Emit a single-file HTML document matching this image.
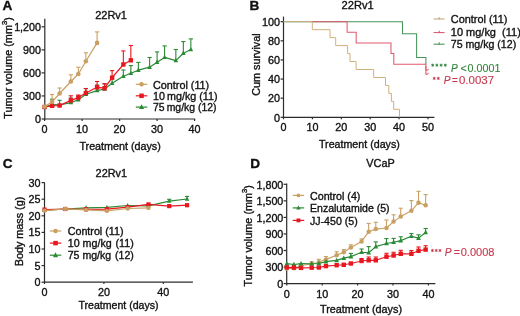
<!DOCTYPE html>
<html><head><meta charset="utf-8"><style>
html,body{margin:0;padding:0;background:#fff;width:520px;height:316px;overflow:hidden}
svg{display:block;will-change:transform}
text{font-family:"Liberation Sans", sans-serif}
</style></head><body>
<svg width="520" height="316" viewBox="0 0 520 316">
<rect width="520" height="316" fill="#fff"/>
<text x="2.6" y="10.3" font-size="13.6" text-anchor="start" fill="#111" stroke="#111" stroke-width="0.35" font-weight="bold" font-style="normal" >A</text>
<text x="95.2" y="19.3" font-size="11.6" text-anchor="start" fill="#111" stroke="#111" stroke-width="0.35" font-weight="normal" font-style="normal" textLength="31.8" lengthAdjust="spacingAndGlyphs" >22Rv1</text>
<line x1="44.8" y1="18.7" x2="44.8" y2="119.5" stroke="#2c2c2c" stroke-width="1.2"/>
<line x1="44.3" y1="119.0" x2="195.2" y2="119.0" stroke="#2c2c2c" stroke-width="1.2"/>
<line x1="41.6" y1="119.0" x2="44.8" y2="119.0" stroke="#2c2c2c" stroke-width="1.2"/>
<text x="40.9" y="123.2" font-size="10.7" text-anchor="end" fill="#111" stroke="#111" stroke-width="0.35" font-weight="normal" font-style="normal" >0</text>
<line x1="41.6" y1="95.95" x2="44.8" y2="95.95" stroke="#2c2c2c" stroke-width="1.2"/>
<text x="40.9" y="100.15" font-size="10.7" text-anchor="end" fill="#111" stroke="#111" stroke-width="0.35" font-weight="normal" font-style="normal" >300</text>
<line x1="41.6" y1="72.9" x2="44.8" y2="72.9" stroke="#2c2c2c" stroke-width="1.2"/>
<text x="40.9" y="77.10000000000001" font-size="10.7" text-anchor="end" fill="#111" stroke="#111" stroke-width="0.35" font-weight="normal" font-style="normal" >600</text>
<line x1="41.6" y1="49.849999999999994" x2="44.8" y2="49.849999999999994" stroke="#2c2c2c" stroke-width="1.2"/>
<text x="40.9" y="54.05" font-size="10.7" text-anchor="end" fill="#111" stroke="#111" stroke-width="0.35" font-weight="normal" font-style="normal" >900</text>
<line x1="41.6" y1="26.799999999999997" x2="44.8" y2="26.799999999999997" stroke="#2c2c2c" stroke-width="1.2"/>
<text x="40.9" y="30.999999999999996" font-size="10.7" text-anchor="end" fill="#111" stroke="#111" stroke-width="0.35" font-weight="normal" font-style="normal" >1,200</text>
<line x1="44.6" y1="119.0" x2="44.6" y2="121.0" stroke="#2c2c2c" stroke-width="1.2"/>
<text x="44.6" y="132.8" font-size="10.8" text-anchor="middle" fill="#111" stroke="#111" stroke-width="0.35" font-weight="normal" font-style="normal" >0</text>
<line x1="82.1" y1="119.0" x2="82.1" y2="121.0" stroke="#2c2c2c" stroke-width="1.2"/>
<text x="82.1" y="132.8" font-size="10.8" text-anchor="middle" fill="#111" stroke="#111" stroke-width="0.35" font-weight="normal" font-style="normal" >10</text>
<line x1="119.6" y1="119.0" x2="119.6" y2="121.0" stroke="#2c2c2c" stroke-width="1.2"/>
<text x="119.6" y="132.8" font-size="10.8" text-anchor="middle" fill="#111" stroke="#111" stroke-width="0.35" font-weight="normal" font-style="normal" >20</text>
<line x1="157.1" y1="119.0" x2="157.1" y2="121.0" stroke="#2c2c2c" stroke-width="1.2"/>
<text x="157.1" y="132.8" font-size="10.8" text-anchor="middle" fill="#111" stroke="#111" stroke-width="0.35" font-weight="normal" font-style="normal" >30</text>
<line x1="194.6" y1="119.0" x2="194.6" y2="121.0" stroke="#2c2c2c" stroke-width="1.2"/>
<text x="194.6" y="132.8" font-size="10.8" text-anchor="middle" fill="#111" stroke="#111" stroke-width="0.35" font-weight="normal" font-style="normal" >40</text>
<text x="79.4" y="149.6" font-size="10.8" text-anchor="start" fill="#111" stroke="#111" stroke-width="0.35" font-weight="normal" font-style="normal" textLength="81.4" lengthAdjust="spacingAndGlyphs" >Treatment (days)</text>
<text transform="translate(12.0,67.95) rotate(-90)" font-size="10.85" text-anchor="middle" fill="#111" stroke="#111" stroke-width="0.35">Tumor volume (mm<tspan font-size="7.6" dy="-5.0">3</tspan><tspan dy="5.0">)</tspan></text>
<line x1="52.10" y1="104.60" x2="52.10" y2="99.20" stroke="#2A8A36" stroke-width="1.1"/>
<line x1="50.00" y1="99.20" x2="54.20" y2="99.20" stroke="#2A8A36" stroke-width="1.1"/>
<line x1="59.60" y1="104.80" x2="59.60" y2="100.30" stroke="#2A8A36" stroke-width="1.1"/>
<line x1="57.50" y1="100.30" x2="61.70" y2="100.30" stroke="#2A8A36" stroke-width="1.1"/>
<line x1="70.85" y1="102.60" x2="70.85" y2="98.00" stroke="#2A8A36" stroke-width="1.1"/>
<line x1="68.75" y1="98.00" x2="72.95" y2="98.00" stroke="#2A8A36" stroke-width="1.1"/>
<line x1="78.35" y1="99.80" x2="78.35" y2="96.00" stroke="#2A8A36" stroke-width="1.1"/>
<line x1="76.25" y1="96.00" x2="80.45" y2="96.00" stroke="#2A8A36" stroke-width="1.1"/>
<line x1="85.85" y1="94.30" x2="85.85" y2="88.50" stroke="#2A8A36" stroke-width="1.1"/>
<line x1="83.75" y1="88.50" x2="87.95" y2="88.50" stroke="#2A8A36" stroke-width="1.1"/>
<line x1="97.10" y1="90.60" x2="97.10" y2="85.00" stroke="#2A8A36" stroke-width="1.1"/>
<line x1="95.00" y1="85.00" x2="99.20" y2="85.00" stroke="#2A8A36" stroke-width="1.1"/>
<line x1="104.60" y1="89.00" x2="104.60" y2="84.00" stroke="#2A8A36" stroke-width="1.1"/>
<line x1="102.50" y1="84.00" x2="106.70" y2="84.00" stroke="#2A8A36" stroke-width="1.1"/>
<line x1="112.10" y1="83.30" x2="112.10" y2="76.50" stroke="#2A8A36" stroke-width="1.1"/>
<line x1="110.00" y1="76.50" x2="114.20" y2="76.50" stroke="#2A8A36" stroke-width="1.1"/>
<line x1="123.35" y1="76.20" x2="123.35" y2="70.00" stroke="#2A8A36" stroke-width="1.1"/>
<line x1="121.25" y1="70.00" x2="125.45" y2="70.00" stroke="#2A8A36" stroke-width="1.1"/>
<line x1="130.85" y1="73.30" x2="130.85" y2="65.60" stroke="#2A8A36" stroke-width="1.1"/>
<line x1="128.75" y1="65.60" x2="132.95" y2="65.60" stroke="#2A8A36" stroke-width="1.1"/>
<line x1="138.35" y1="70.20" x2="138.35" y2="62.40" stroke="#2A8A36" stroke-width="1.1"/>
<line x1="136.25" y1="62.40" x2="140.45" y2="62.40" stroke="#2A8A36" stroke-width="1.1"/>
<line x1="149.60" y1="67.20" x2="149.60" y2="57.50" stroke="#2A8A36" stroke-width="1.1"/>
<line x1="147.50" y1="57.50" x2="151.70" y2="57.50" stroke="#2A8A36" stroke-width="1.1"/>
<line x1="157.10" y1="62.20" x2="157.10" y2="51.90" stroke="#2A8A36" stroke-width="1.1"/>
<line x1="155.00" y1="51.90" x2="159.20" y2="51.90" stroke="#2A8A36" stroke-width="1.1"/>
<line x1="164.60" y1="57.40" x2="164.60" y2="45.90" stroke="#2A8A36" stroke-width="1.1"/>
<line x1="162.50" y1="45.90" x2="166.70" y2="45.90" stroke="#2A8A36" stroke-width="1.1"/>
<line x1="175.85" y1="60.60" x2="175.85" y2="49.50" stroke="#2A8A36" stroke-width="1.1"/>
<line x1="173.75" y1="49.50" x2="177.95" y2="49.50" stroke="#2A8A36" stroke-width="1.1"/>
<line x1="183.35" y1="53.20" x2="183.35" y2="41.60" stroke="#2A8A36" stroke-width="1.1"/>
<line x1="181.25" y1="41.60" x2="185.45" y2="41.60" stroke="#2A8A36" stroke-width="1.1"/>
<line x1="190.85" y1="49.50" x2="190.85" y2="38.90" stroke="#2A8A36" stroke-width="1.1"/>
<line x1="188.75" y1="38.90" x2="192.95" y2="38.90" stroke="#2A8A36" stroke-width="1.1"/>
<polyline points="44.60,107.00 52.10,104.60 59.60,104.80 70.85,102.60 78.35,99.80 85.85,94.30 97.10,90.60 104.60,89.00 112.10,83.30 123.35,76.20 130.85,73.30 138.35,70.20 149.60,67.20 157.10,62.20 164.60,57.40 175.85,60.60 183.35,53.20 190.85,49.50" fill="none" stroke="#2A8A36" stroke-width="1.2" stroke-linejoin="round"/>
<polygon points="44.60,104.40 42.30,108.72 46.90,108.72" fill="#2A8A36"/>
<polygon points="52.10,102.00 49.80,106.32 54.40,106.32" fill="#2A8A36"/>
<polygon points="59.60,102.20 57.30,106.52 61.90,106.52" fill="#2A8A36"/>
<polygon points="70.85,100.00 68.55,104.32 73.15,104.32" fill="#2A8A36"/>
<polygon points="78.35,97.20 76.05,101.52 80.65,101.52" fill="#2A8A36"/>
<polygon points="85.85,91.70 83.55,96.02 88.15,96.02" fill="#2A8A36"/>
<polygon points="97.10,88.00 94.80,92.32 99.40,92.32" fill="#2A8A36"/>
<polygon points="104.60,86.40 102.30,90.72 106.90,90.72" fill="#2A8A36"/>
<polygon points="112.10,80.70 109.80,85.02 114.40,85.02" fill="#2A8A36"/>
<polygon points="123.35,73.60 121.05,77.92 125.65,77.92" fill="#2A8A36"/>
<polygon points="130.85,70.70 128.55,75.02 133.15,75.02" fill="#2A8A36"/>
<polygon points="138.35,67.60 136.05,71.92 140.65,71.92" fill="#2A8A36"/>
<polygon points="149.60,64.60 147.30,68.92 151.90,68.92" fill="#2A8A36"/>
<polygon points="157.10,59.60 154.80,63.93 159.40,63.93" fill="#2A8A36"/>
<polygon points="164.60,54.80 162.30,59.12 166.90,59.12" fill="#2A8A36"/>
<polygon points="175.85,58.00 173.55,62.33 178.15,62.33" fill="#2A8A36"/>
<polygon points="183.35,50.60 181.05,54.93 185.65,54.93" fill="#2A8A36"/>
<polygon points="190.85,46.90 188.55,51.23 193.15,51.23" fill="#2A8A36"/>
<line x1="70.85" y1="100.40" x2="70.85" y2="95.80" stroke="#E8161F" stroke-width="1.1"/>
<line x1="68.75" y1="95.80" x2="72.95" y2="95.80" stroke="#E8161F" stroke-width="1.1"/>
<line x1="78.35" y1="97.60" x2="78.35" y2="95.00" stroke="#E8161F" stroke-width="1.1"/>
<line x1="76.25" y1="95.00" x2="80.45" y2="95.00" stroke="#E8161F" stroke-width="1.1"/>
<line x1="85.85" y1="93.00" x2="85.85" y2="88.60" stroke="#E8161F" stroke-width="1.1"/>
<line x1="83.75" y1="88.60" x2="87.95" y2="88.60" stroke="#E8161F" stroke-width="1.1"/>
<line x1="97.10" y1="87.30" x2="97.10" y2="81.50" stroke="#E8161F" stroke-width="1.1"/>
<line x1="95.00" y1="81.50" x2="99.20" y2="81.50" stroke="#E8161F" stroke-width="1.1"/>
<line x1="104.60" y1="88.20" x2="104.60" y2="83.70" stroke="#E8161F" stroke-width="1.1"/>
<line x1="102.50" y1="83.70" x2="106.70" y2="83.70" stroke="#E8161F" stroke-width="1.1"/>
<line x1="112.10" y1="77.70" x2="112.10" y2="70.60" stroke="#E8161F" stroke-width="1.1"/>
<line x1="110.00" y1="70.60" x2="114.20" y2="70.60" stroke="#E8161F" stroke-width="1.1"/>
<line x1="123.35" y1="64.50" x2="123.35" y2="50.90" stroke="#E8161F" stroke-width="1.1"/>
<line x1="121.25" y1="50.90" x2="125.45" y2="50.90" stroke="#E8161F" stroke-width="1.1"/>
<line x1="130.85" y1="60.30" x2="130.85" y2="45.50" stroke="#E8161F" stroke-width="1.1"/>
<line x1="128.75" y1="45.50" x2="132.95" y2="45.50" stroke="#E8161F" stroke-width="1.1"/>
<polyline points="44.60,107.00 52.10,105.80 59.60,105.50 70.85,100.40 78.35,97.60 85.85,93.00 97.10,87.30 104.60,88.20 112.10,77.70 123.35,64.50 130.85,60.30" fill="none" stroke="#E8161F" stroke-width="1.2" stroke-linejoin="round"/>
<rect x="42.40" y="104.80" width="4.40" height="4.40" fill="#E8161F"/>
<rect x="49.90" y="103.60" width="4.40" height="4.40" fill="#E8161F"/>
<rect x="57.40" y="103.30" width="4.40" height="4.40" fill="#E8161F"/>
<rect x="68.65" y="98.20" width="4.40" height="4.40" fill="#E8161F"/>
<rect x="76.15" y="95.40" width="4.40" height="4.40" fill="#E8161F"/>
<rect x="83.65" y="90.80" width="4.40" height="4.40" fill="#E8161F"/>
<rect x="94.90" y="85.10" width="4.40" height="4.40" fill="#E8161F"/>
<rect x="102.40" y="86.00" width="4.40" height="4.40" fill="#E8161F"/>
<rect x="109.90" y="75.50" width="4.40" height="4.40" fill="#E8161F"/>
<rect x="121.15" y="62.30" width="4.40" height="4.40" fill="#E8161F"/>
<rect x="128.65" y="58.10" width="4.40" height="4.40" fill="#E8161F"/>
<line x1="52.10" y1="101.80" x2="52.10" y2="94.50" stroke="#C9A062" stroke-width="1.1"/>
<line x1="50.00" y1="94.50" x2="54.20" y2="94.50" stroke="#C9A062" stroke-width="1.1"/>
<line x1="59.60" y1="93.50" x2="59.60" y2="88.00" stroke="#C9A062" stroke-width="1.1"/>
<line x1="57.50" y1="88.00" x2="61.70" y2="88.00" stroke="#C9A062" stroke-width="1.1"/>
<line x1="70.85" y1="81.50" x2="70.85" y2="74.80" stroke="#C9A062" stroke-width="1.1"/>
<line x1="68.75" y1="74.80" x2="72.95" y2="74.80" stroke="#C9A062" stroke-width="1.1"/>
<line x1="78.35" y1="74.00" x2="78.35" y2="67.20" stroke="#C9A062" stroke-width="1.1"/>
<line x1="76.25" y1="67.20" x2="80.45" y2="67.20" stroke="#C9A062" stroke-width="1.1"/>
<line x1="85.85" y1="61.30" x2="85.85" y2="52.80" stroke="#C9A062" stroke-width="1.1"/>
<line x1="83.75" y1="52.80" x2="87.95" y2="52.80" stroke="#C9A062" stroke-width="1.1"/>
<line x1="97.10" y1="42.90" x2="97.10" y2="31.90" stroke="#C9A062" stroke-width="1.1"/>
<line x1="95.00" y1="31.90" x2="99.20" y2="31.90" stroke="#C9A062" stroke-width="1.1"/>
<polyline points="44.60,106.80 52.10,101.80 59.60,93.50 70.85,81.50 78.35,74.00 85.85,61.30 97.10,42.90" fill="none" stroke="#C9A062" stroke-width="1.2" stroke-linejoin="round"/>
<circle cx="44.60" cy="106.80" r="2.3" fill="#C9A062"/>
<circle cx="52.10" cy="101.80" r="2.3" fill="#C9A062"/>
<circle cx="59.60" cy="93.50" r="2.3" fill="#C9A062"/>
<circle cx="70.85" cy="81.50" r="2.3" fill="#C9A062"/>
<circle cx="78.35" cy="74.00" r="2.3" fill="#C9A062"/>
<circle cx="85.85" cy="61.30" r="2.3" fill="#C9A062"/>
<circle cx="97.10" cy="42.90" r="2.3" fill="#C9A062"/>
<line x1="135.8" y1="84.3" x2="147.3" y2="84.3" stroke="#C9A062" stroke-width="1.2"/>
<circle cx="141.55" cy="84.30" r="2.25" fill="#C9A062"/>
<text x="153.0" y="88.5" font-size="10.8" text-anchor="start" fill="#111" stroke="#111" stroke-width="0.35" font-weight="normal" font-style="normal" textLength="56.2" lengthAdjust="spacingAndGlyphs" >Control (11)</text>
<line x1="135.8" y1="95.8" x2="147.3" y2="95.8" stroke="#E8161F" stroke-width="1.2"/>
<rect x="139.30" y="93.55" width="4.50" height="4.50" fill="#E8161F"/>
<text x="153.0" y="100.0" font-size="10.8" text-anchor="start" fill="#111" stroke="#111" stroke-width="0.35" font-weight="normal" font-style="normal" textLength="64.5" lengthAdjust="spacingAndGlyphs" >10&#8201;mg/kg (11)</text>
<line x1="135.8" y1="107.1" x2="147.3" y2="107.1" stroke="#2A8A36" stroke-width="1.2"/>
<polygon points="141.55,104.21 139.00,109.04 144.10,109.04" fill="#2A8A36"/>
<text x="153.0" y="111.3" font-size="10.8" text-anchor="start" fill="#111" stroke="#111" stroke-width="0.35" font-weight="normal" font-style="normal" textLength="63.5" lengthAdjust="spacingAndGlyphs" >75&#8201;mg/kg (12)</text>
<text x="249.6" y="10.3" font-size="13.6" text-anchor="start" fill="#111" stroke="#111" stroke-width="0.35" font-weight="bold" font-style="normal" >B</text>
<text x="341.6" y="8.5" font-size="11.4" text-anchor="start" fill="#111" stroke="#111" stroke-width="0.35" font-weight="normal" font-style="normal" textLength="32.2" lengthAdjust="spacingAndGlyphs" >22Rv1</text>
<line x1="283.5" y1="16.6" x2="283.5" y2="117.8" stroke="#2c2c2c" stroke-width="1.2"/>
<line x1="283.0" y1="117.3" x2="434.4" y2="117.3" stroke="#2c2c2c" stroke-width="1.2"/>
<line x1="280.6" y1="117.3" x2="283.5" y2="117.3" stroke="#2c2c2c" stroke-width="1.2"/>
<text x="279.9" y="121.5" font-size="10.8" text-anchor="end" fill="#111" stroke="#111" stroke-width="0.35" font-weight="normal" font-style="normal" >0</text>
<line x1="280.6" y1="98.17999999999999" x2="283.5" y2="98.17999999999999" stroke="#2c2c2c" stroke-width="1.2"/>
<text x="279.9" y="102.38" font-size="10.8" text-anchor="end" fill="#111" stroke="#111" stroke-width="0.35" font-weight="normal" font-style="normal" >20</text>
<line x1="280.6" y1="79.06" x2="283.5" y2="79.06" stroke="#2c2c2c" stroke-width="1.2"/>
<text x="279.9" y="83.26" font-size="10.8" text-anchor="end" fill="#111" stroke="#111" stroke-width="0.35" font-weight="normal" font-style="normal" >40</text>
<line x1="280.6" y1="59.94" x2="283.5" y2="59.94" stroke="#2c2c2c" stroke-width="1.2"/>
<text x="279.9" y="64.14" font-size="10.8" text-anchor="end" fill="#111" stroke="#111" stroke-width="0.35" font-weight="normal" font-style="normal" >60</text>
<line x1="280.6" y1="40.81999999999999" x2="283.5" y2="40.81999999999999" stroke="#2c2c2c" stroke-width="1.2"/>
<text x="279.9" y="45.019999999999996" font-size="10.8" text-anchor="end" fill="#111" stroke="#111" stroke-width="0.35" font-weight="normal" font-style="normal" >80</text>
<line x1="280.6" y1="21.69999999999999" x2="283.5" y2="21.69999999999999" stroke="#2c2c2c" stroke-width="1.2"/>
<text x="279.9" y="25.899999999999988" font-size="10.8" text-anchor="end" fill="#111" stroke="#111" stroke-width="0.35" font-weight="normal" font-style="normal" >100</text>
<line x1="283.5" y1="117.3" x2="283.5" y2="119.3" stroke="#2c2c2c" stroke-width="1.2"/>
<text x="283.5" y="131.0" font-size="10.8" text-anchor="middle" fill="#111" stroke="#111" stroke-width="0.35" font-weight="normal" font-style="normal" >0</text>
<line x1="312.4" y1="117.3" x2="312.4" y2="119.3" stroke="#2c2c2c" stroke-width="1.2"/>
<text x="312.4" y="131.0" font-size="10.8" text-anchor="middle" fill="#111" stroke="#111" stroke-width="0.35" font-weight="normal" font-style="normal" >10</text>
<line x1="341.3" y1="117.3" x2="341.3" y2="119.3" stroke="#2c2c2c" stroke-width="1.2"/>
<text x="341.3" y="131.0" font-size="10.8" text-anchor="middle" fill="#111" stroke="#111" stroke-width="0.35" font-weight="normal" font-style="normal" >20</text>
<line x1="370.2" y1="117.3" x2="370.2" y2="119.3" stroke="#2c2c2c" stroke-width="1.2"/>
<text x="370.2" y="131.0" font-size="10.8" text-anchor="middle" fill="#111" stroke="#111" stroke-width="0.35" font-weight="normal" font-style="normal" >30</text>
<line x1="399.1" y1="117.3" x2="399.1" y2="119.3" stroke="#2c2c2c" stroke-width="1.2"/>
<text x="399.1" y="131.0" font-size="10.8" text-anchor="middle" fill="#111" stroke="#111" stroke-width="0.35" font-weight="normal" font-style="normal" >40</text>
<line x1="428.0" y1="117.3" x2="428.0" y2="119.3" stroke="#2c2c2c" stroke-width="1.2"/>
<text x="428.0" y="131.0" font-size="10.8" text-anchor="middle" fill="#111" stroke="#111" stroke-width="0.35" font-weight="normal" font-style="normal" >50</text>
<text x="319.0" y="148.3" font-size="10.8" text-anchor="start" fill="#111" stroke="#111" stroke-width="0.35" font-weight="normal" font-style="normal" textLength="80.8" lengthAdjust="spacingAndGlyphs" >Treatment (days)</text>
<text x="0" y="0" font-size="10.8" text-anchor="middle" fill="#111" stroke="#111" stroke-width="0.35" font-weight="normal" font-style="normal" transform="translate(260.4,64.6) rotate(-90)">Cum survival</text>
<path d="M283.50,21.70 L402.50,21.70 L402.50,33.65 L416.60,33.65 L416.60,57.55 L425.90,57.55 L425.90,64.20" fill="none" stroke="#45955A" stroke-width="1.05"/>
<path d="M312.30,21.70 L347.10,21.70 L347.10,32.32 L356.20,32.32 L356.20,42.94 L391.00,42.94 L391.00,53.57 L393.80,53.57 L393.80,64.19 L425.90,64.19 L425.90,70.00" fill="none" stroke="#E25A6E" stroke-width="1.05"/>
<path d="M425.9,66 L425.9,69.8 Q426.3,71.2 428.6,69.2 M425.9,70 L425.9,73.8 Q426.3,75.2 428.6,73.2" fill="none" stroke="#E25A6E" stroke-width="1.1"/>
<path d="M283.50,21.70 L312.30,21.70 L312.30,29.67 L330.00,29.67 L330.00,37.63 L335.70,37.63 L335.70,45.60 L347.60,45.60 L347.60,53.57 L350.00,53.57 L350.00,61.53 L356.10,61.53 L356.10,69.50 L373.70,69.50 L373.70,77.47 L385.50,77.47 L385.50,85.43 L388.80,85.43 L388.80,93.40 L391.40,93.40 L391.40,101.37 L393.70,101.37 L393.70,109.33 L399.50,109.33 L399.50,117.30 L399.50,117.30" fill="none" stroke="#D2AF7C" stroke-width="1.0"/>
<line x1="433.6" y1="19.0" x2="444.6" y2="19.0" stroke="#BFA070" stroke-width="1.0"/>
<line x1="439.2" y1="17.1" x2="439.2" y2="19.3" stroke="#BFA070" stroke-width="1.0"/>
<text x="450.8" y="22.7" font-size="10.9" text-anchor="start" fill="#111" stroke="#111" stroke-width="0.35" font-weight="normal" font-style="normal" textLength="56.7" lengthAdjust="spacingAndGlyphs" >Control (11)</text>
<line x1="433.6" y1="32.6" x2="444.6" y2="32.6" stroke="#D65068" stroke-width="1.0"/>
<line x1="439.2" y1="30.700000000000003" x2="439.2" y2="32.9" stroke="#D65068" stroke-width="1.0"/>
<text x="450.8" y="36.2" font-size="10.9" text-anchor="start" fill="#111" stroke="#111" stroke-width="0.35" font-weight="normal" font-style="normal" textLength="70.0" lengthAdjust="spacingAndGlyphs" >10 mg/kg&#160; (11)</text>
<line x1="433.6" y1="44.2" x2="444.6" y2="44.2" stroke="#3C8A4C" stroke-width="1.0"/>
<line x1="439.2" y1="42.300000000000004" x2="439.2" y2="44.5" stroke="#3C8A4C" stroke-width="1.0"/>
<text x="450.8" y="48.1" font-size="10.9" text-anchor="start" fill="#111" stroke="#111" stroke-width="0.35" font-weight="normal" font-style="normal" textLength="65.4" lengthAdjust="spacingAndGlyphs" >75 mg/kg (12)</text>
<path d="M432.70,63.65L432.70,66.75M431.36,64.42L434.04,65.98M434.04,64.42L431.36,65.98M436.90,63.65L436.90,66.75M435.56,64.42L438.24,65.98M438.24,64.42L435.56,65.98M441.10,63.65L441.10,66.75M439.76,64.42L442.44,65.98M442.44,64.42L439.76,65.98M445.30,63.65L445.30,66.75M443.96,64.42L446.64,65.98M446.64,64.42L443.96,65.98" stroke="#34873F" stroke-width="0.95" fill="none"/>
<text x="451.0" y="71.6" font-size="10.1" font-style="italic" fill="#34873F" stroke="#34873F" stroke-width="0.12">P</text>
<text x="460.4" y="71.6" font-size="10.1" fill="#34873F" stroke="#34873F" stroke-width="0.12" textLength="6.2" lengthAdjust="spacingAndGlyphs">&lt;</text>
<text x="467.6" y="71.6" font-size="10.1" fill="#34873F" stroke="#34873F" stroke-width="0.12" textLength="32.8" lengthAdjust="spacingAndGlyphs">0.0001</text>
<path d="M434.20,76.85L434.20,79.95M432.86,77.62L435.54,79.18M435.54,77.62L432.86,79.18M438.30,76.85L438.30,79.95M436.96,77.62L439.64,79.18M439.64,77.62L436.96,79.18" stroke="#C93A50" stroke-width="0.95" fill="none"/>
<text x="443.8" y="84.0" font-size="10.1" font-style="italic" fill="#C93A50" stroke="#C93A50" stroke-width="0.12">P</text>
<text x="452.0" y="84.0" font-size="10.1" fill="#C93A50" stroke="#C93A50" stroke-width="0.12" textLength="5.8" lengthAdjust="spacingAndGlyphs">=</text>
<text x="459.0" y="84.0" font-size="10.1" fill="#C93A50" stroke="#C93A50" stroke-width="0.12" textLength="35.0" lengthAdjust="spacingAndGlyphs">0.0037</text>
<text x="2.8" y="167.8" font-size="13.6" text-anchor="start" fill="#111" stroke="#111" stroke-width="0.35" font-weight="bold" font-style="normal" >C</text>
<text x="95.6" y="176.8" font-size="11.4" text-anchor="start" fill="#111" stroke="#111" stroke-width="0.35" font-weight="normal" font-style="normal" textLength="31.5" lengthAdjust="spacingAndGlyphs" >22Rv1</text>
<line x1="44.5" y1="182.4" x2="44.5" y2="282.7" stroke="#2c2c2c" stroke-width="1.2"/>
<line x1="44.0" y1="282.2" x2="192.9" y2="282.2" stroke="#2c2c2c" stroke-width="1.2"/>
<line x1="41.6" y1="282.2" x2="44.5" y2="282.2" stroke="#2c2c2c" stroke-width="1.2"/>
<text x="40.4" y="286.09999999999997" font-size="10.8" text-anchor="end" fill="#111" stroke="#111" stroke-width="0.35" font-weight="normal" font-style="normal" >0</text>
<line x1="41.6" y1="265.59999999999997" x2="44.5" y2="265.59999999999997" stroke="#2c2c2c" stroke-width="1.2"/>
<text x="40.4" y="269.49999999999994" font-size="10.8" text-anchor="end" fill="#111" stroke="#111" stroke-width="0.35" font-weight="normal" font-style="normal" >5</text>
<line x1="41.6" y1="249.0" x2="44.5" y2="249.0" stroke="#2c2c2c" stroke-width="1.2"/>
<text x="40.4" y="252.9" font-size="10.8" text-anchor="end" fill="#111" stroke="#111" stroke-width="0.35" font-weight="normal" font-style="normal" >10</text>
<line x1="41.6" y1="232.39999999999998" x2="44.5" y2="232.39999999999998" stroke="#2c2c2c" stroke-width="1.2"/>
<text x="40.4" y="236.29999999999998" font-size="10.8" text-anchor="end" fill="#111" stroke="#111" stroke-width="0.35" font-weight="normal" font-style="normal" >15</text>
<line x1="41.6" y1="215.79999999999998" x2="44.5" y2="215.79999999999998" stroke="#2c2c2c" stroke-width="1.2"/>
<text x="40.4" y="219.7" font-size="10.8" text-anchor="end" fill="#111" stroke="#111" stroke-width="0.35" font-weight="normal" font-style="normal" >20</text>
<line x1="41.6" y1="199.2" x2="44.5" y2="199.2" stroke="#2c2c2c" stroke-width="1.2"/>
<text x="40.4" y="203.1" font-size="10.8" text-anchor="end" fill="#111" stroke="#111" stroke-width="0.35" font-weight="normal" font-style="normal" >25</text>
<line x1="41.6" y1="182.59999999999997" x2="44.5" y2="182.59999999999997" stroke="#2c2c2c" stroke-width="1.2"/>
<text x="40.4" y="186.49999999999997" font-size="10.8" text-anchor="end" fill="#111" stroke="#111" stroke-width="0.35" font-weight="normal" font-style="normal" >30</text>
<line x1="44.5" y1="282.2" x2="44.5" y2="284.0" stroke="#2c2c2c" stroke-width="1.2"/>
<text x="44.5" y="295.6" font-size="10.8" text-anchor="middle" fill="#111" stroke="#111" stroke-width="0.35" font-weight="normal" font-style="normal" >0</text>
<line x1="103.9" y1="282.2" x2="103.9" y2="284.0" stroke="#2c2c2c" stroke-width="1.2"/>
<text x="103.9" y="295.6" font-size="10.8" text-anchor="middle" fill="#111" stroke="#111" stroke-width="0.35" font-weight="normal" font-style="normal" >20</text>
<line x1="163.3" y1="282.2" x2="163.3" y2="284.0" stroke="#2c2c2c" stroke-width="1.2"/>
<text x="163.3" y="295.6" font-size="10.8" text-anchor="middle" fill="#111" stroke="#111" stroke-width="0.35" font-weight="normal" font-style="normal" >40</text>
<text x="78.5" y="309.3" font-size="10.8" text-anchor="start" fill="#111" stroke="#111" stroke-width="0.35" font-weight="normal" font-style="normal" textLength="80.0" lengthAdjust="spacingAndGlyphs" >Treatment (days)</text>
<text x="0" y="0" font-size="10.8" text-anchor="middle" fill="#111" stroke="#111" stroke-width="0.35" font-weight="normal" font-style="normal" transform="translate(23.2,231.5) rotate(-90)">Body mass (g)</text>
<line x1="169.24" y1="201.20" x2="169.24" y2="199.30" stroke="#2A8A36" stroke-width="1.1"/>
<line x1="167.14" y1="199.30" x2="171.34" y2="199.30" stroke="#2A8A36" stroke-width="1.1"/>
<line x1="187.06" y1="199.00" x2="187.06" y2="196.40" stroke="#2A8A36" stroke-width="1.1"/>
<line x1="184.96" y1="196.40" x2="189.16" y2="196.40" stroke="#2A8A36" stroke-width="1.1"/>
<polyline points="44.50,210.30 65.29,209.00 86.08,207.80 106.87,207.40 127.66,205.50 148.45,205.80 169.24,201.20 187.06,199.00" fill="none" stroke="#2A8A36" stroke-width="1.2" stroke-linejoin="round"/>
<polygon points="44.50,207.81 42.30,211.94 46.70,211.94" fill="#2A8A36"/>
<polygon points="65.29,206.51 63.09,210.64 67.49,210.64" fill="#2A8A36"/>
<polygon points="86.08,205.31 83.88,209.44 88.28,209.44" fill="#2A8A36"/>
<polygon points="106.87,204.91 104.67,209.04 109.07,209.04" fill="#2A8A36"/>
<polygon points="127.66,203.01 125.46,207.14 129.86,207.14" fill="#2A8A36"/>
<polygon points="148.45,203.31 146.25,207.44 150.65,207.44" fill="#2A8A36"/>
<polygon points="169.24,198.71 167.04,202.84 171.44,202.84" fill="#2A8A36"/>
<polygon points="187.06,196.51 184.86,200.64 189.26,200.64" fill="#2A8A36"/>
<polyline points="44.50,209.60 65.29,209.00 86.08,209.30 106.87,209.20 127.66,207.20 148.45,204.40 169.24,206.10 187.06,205.20" fill="none" stroke="#E8161F" stroke-width="1.2" stroke-linejoin="round"/>
<rect x="42.40" y="207.50" width="4.20" height="4.20" fill="#E8161F"/>
<rect x="63.19" y="206.90" width="4.20" height="4.20" fill="#E8161F"/>
<rect x="83.98" y="207.20" width="4.20" height="4.20" fill="#E8161F"/>
<rect x="104.77" y="207.10" width="4.20" height="4.20" fill="#E8161F"/>
<rect x="125.56" y="205.10" width="4.20" height="4.20" fill="#E8161F"/>
<rect x="146.35" y="202.30" width="4.20" height="4.20" fill="#E8161F"/>
<rect x="167.14" y="204.00" width="4.20" height="4.20" fill="#E8161F"/>
<rect x="184.96" y="203.10" width="4.20" height="4.20" fill="#E8161F"/>
<polyline points="44.50,210.60 65.29,208.90 86.08,209.90 106.87,210.90 127.66,208.50 148.45,207.90" fill="none" stroke="#C9A062" stroke-width="1.2" stroke-linejoin="round"/>
<circle cx="44.50" cy="210.60" r="2.2" fill="#C9A062"/>
<circle cx="65.29" cy="208.90" r="2.2" fill="#C9A062"/>
<circle cx="86.08" cy="209.90" r="2.2" fill="#C9A062"/>
<circle cx="106.87" cy="210.90" r="2.2" fill="#C9A062"/>
<circle cx="127.66" cy="208.50" r="2.2" fill="#C9A062"/>
<circle cx="148.45" cy="207.90" r="2.2" fill="#C9A062"/>
<line x1="49.8" y1="231.0" x2="61.3" y2="231.0" stroke="#C9A062" stroke-width="1.2"/>
<circle cx="55.55" cy="231.00" r="2.25" fill="#C9A062"/>
<text x="67.7" y="235.2" font-size="10.5" text-anchor="start" fill="#111" stroke="#111" stroke-width="0.35" font-weight="normal" font-style="normal" textLength="55.8" lengthAdjust="spacingAndGlyphs" >Control (11)</text>
<line x1="49.8" y1="243.1" x2="61.3" y2="243.1" stroke="#E8161F" stroke-width="1.2"/>
<rect x="53.30" y="240.85" width="4.50" height="4.50" fill="#E8161F"/>
<text x="67.7" y="247.3" font-size="10.5" text-anchor="start" fill="#111" stroke="#111" stroke-width="0.35" font-weight="normal" font-style="normal" textLength="66.1" lengthAdjust="spacingAndGlyphs" >10 mg/kg&#8202; (11)</text>
<line x1="49.8" y1="255.2" x2="61.3" y2="255.2" stroke="#2A8A36" stroke-width="1.2"/>
<polygon points="55.55,252.31 53.00,257.14 58.10,257.14" fill="#2A8A36"/>
<text x="67.7" y="259.4" font-size="10.5" text-anchor="start" fill="#111" stroke="#111" stroke-width="0.35" font-weight="normal" font-style="normal" textLength="66.1" lengthAdjust="spacingAndGlyphs" >75 mg/kg&#8202; (12)</text>
<text x="250.2" y="167.8" font-size="13.6" text-anchor="start" fill="#111" stroke="#111" stroke-width="0.35" font-weight="bold" font-style="normal" >D</text>
<text x="366.3" y="166.5" font-size="11.2" text-anchor="start" fill="#111" stroke="#111" stroke-width="0.35" font-weight="normal" font-style="normal" textLength="28.4" lengthAdjust="spacingAndGlyphs" >VCaP</text>
<line x1="286.7" y1="183.6" x2="286.7" y2="284.1" stroke="#2c2c2c" stroke-width="1.2"/>
<line x1="286.2" y1="283.6" x2="435.4" y2="283.6" stroke="#2c2c2c" stroke-width="1.2"/>
<line x1="283.6" y1="283.6" x2="286.7" y2="283.6" stroke="#2c2c2c" stroke-width="1.2"/>
<text x="283.3" y="287.8" font-size="10.7" text-anchor="end" fill="#111" stroke="#111" stroke-width="0.35" font-weight="normal" font-style="normal" >0</text>
<line x1="283.6" y1="267.05" x2="286.7" y2="267.05" stroke="#2c2c2c" stroke-width="1.2"/>
<text x="283.3" y="271.25" font-size="10.7" text-anchor="end" fill="#111" stroke="#111" stroke-width="0.35" font-weight="normal" font-style="normal" >300</text>
<line x1="283.6" y1="250.50000000000003" x2="286.7" y2="250.50000000000003" stroke="#2c2c2c" stroke-width="1.2"/>
<text x="283.3" y="254.70000000000002" font-size="10.7" text-anchor="end" fill="#111" stroke="#111" stroke-width="0.35" font-weight="normal" font-style="normal" >600</text>
<line x1="283.6" y1="233.95000000000002" x2="286.7" y2="233.95000000000002" stroke="#2c2c2c" stroke-width="1.2"/>
<text x="283.3" y="238.15" font-size="10.7" text-anchor="end" fill="#111" stroke="#111" stroke-width="0.35" font-weight="normal" font-style="normal" >900</text>
<line x1="283.6" y1="217.40000000000003" x2="286.7" y2="217.40000000000003" stroke="#2c2c2c" stroke-width="1.2"/>
<text x="283.3" y="221.60000000000002" font-size="10.7" text-anchor="end" fill="#111" stroke="#111" stroke-width="0.35" font-weight="normal" font-style="normal" >1,200</text>
<line x1="283.6" y1="200.85000000000002" x2="286.7" y2="200.85000000000002" stroke="#2c2c2c" stroke-width="1.2"/>
<text x="283.3" y="205.05" font-size="10.7" text-anchor="end" fill="#111" stroke="#111" stroke-width="0.35" font-weight="normal" font-style="normal" >1,500</text>
<line x1="283.6" y1="184.3" x2="286.7" y2="184.3" stroke="#2c2c2c" stroke-width="1.2"/>
<text x="283.3" y="188.5" font-size="10.7" text-anchor="end" fill="#111" stroke="#111" stroke-width="0.35" font-weight="normal" font-style="normal" >1,800</text>
<line x1="286.8" y1="283.6" x2="286.8" y2="285.6" stroke="#2c2c2c" stroke-width="1.2"/>
<text x="286.8" y="297.6" font-size="10.8" text-anchor="middle" fill="#111" stroke="#111" stroke-width="0.35" font-weight="normal" font-style="normal" >0</text>
<line x1="322.2" y1="283.6" x2="322.2" y2="285.6" stroke="#2c2c2c" stroke-width="1.2"/>
<text x="322.2" y="297.6" font-size="10.8" text-anchor="middle" fill="#111" stroke="#111" stroke-width="0.35" font-weight="normal" font-style="normal" >10</text>
<line x1="357.6" y1="283.6" x2="357.6" y2="285.6" stroke="#2c2c2c" stroke-width="1.2"/>
<text x="357.6" y="297.6" font-size="10.8" text-anchor="middle" fill="#111" stroke="#111" stroke-width="0.35" font-weight="normal" font-style="normal" >20</text>
<line x1="393.0" y1="283.6" x2="393.0" y2="285.6" stroke="#2c2c2c" stroke-width="1.2"/>
<text x="393.0" y="297.6" font-size="10.8" text-anchor="middle" fill="#111" stroke="#111" stroke-width="0.35" font-weight="normal" font-style="normal" >30</text>
<line x1="428.4" y1="283.6" x2="428.4" y2="285.6" stroke="#2c2c2c" stroke-width="1.2"/>
<text x="428.4" y="297.6" font-size="10.8" text-anchor="middle" fill="#111" stroke="#111" stroke-width="0.35" font-weight="normal" font-style="normal" >40</text>
<text x="320.0" y="313.2" font-size="10.8" text-anchor="start" fill="#111" stroke="#111" stroke-width="0.35" font-weight="normal" font-style="normal" textLength="82.0" lengthAdjust="spacingAndGlyphs" >Treatment (days)</text>
<text transform="translate(252.3,235.8) rotate(-90)" font-size="10.85" text-anchor="middle" fill="#111" stroke="#111" stroke-width="0.35">Tumor volume (mm<tspan font-size="7.6" dy="-5.0">3</tspan><tspan dy="5.0">)</tspan></text>
<line x1="311.72" y1="264.00" x2="311.72" y2="261.70" stroke="#C9A062" stroke-width="1.1"/>
<line x1="309.62" y1="261.70" x2="313.82" y2="261.70" stroke="#C9A062" stroke-width="1.1"/>
<line x1="318.84" y1="262.20" x2="318.84" y2="259.30" stroke="#C9A062" stroke-width="1.1"/>
<line x1="316.74" y1="259.30" x2="320.94" y2="259.30" stroke="#C9A062" stroke-width="1.1"/>
<line x1="325.96" y1="259.40" x2="325.96" y2="256.60" stroke="#C9A062" stroke-width="1.1"/>
<line x1="323.86" y1="256.60" x2="328.06" y2="256.60" stroke="#C9A062" stroke-width="1.1"/>
<line x1="336.64" y1="255.30" x2="336.64" y2="251.80" stroke="#C9A062" stroke-width="1.1"/>
<line x1="334.54" y1="251.80" x2="338.74" y2="251.80" stroke="#C9A062" stroke-width="1.1"/>
<line x1="343.76" y1="252.20" x2="343.76" y2="249.60" stroke="#C9A062" stroke-width="1.1"/>
<line x1="341.66" y1="249.60" x2="345.86" y2="249.60" stroke="#C9A062" stroke-width="1.1"/>
<line x1="350.88" y1="247.60" x2="350.88" y2="244.80" stroke="#C9A062" stroke-width="1.1"/>
<line x1="348.78" y1="244.80" x2="352.98" y2="244.80" stroke="#C9A062" stroke-width="1.1"/>
<line x1="361.56" y1="241.40" x2="361.56" y2="238.90" stroke="#C9A062" stroke-width="1.1"/>
<line x1="359.46" y1="238.90" x2="363.66" y2="238.90" stroke="#C9A062" stroke-width="1.1"/>
<line x1="368.68" y1="231.80" x2="368.68" y2="223.40" stroke="#C9A062" stroke-width="1.1"/>
<line x1="366.58" y1="223.40" x2="370.78" y2="223.40" stroke="#C9A062" stroke-width="1.1"/>
<line x1="375.80" y1="229.10" x2="375.80" y2="222.30" stroke="#C9A062" stroke-width="1.1"/>
<line x1="373.70" y1="222.30" x2="377.90" y2="222.30" stroke="#C9A062" stroke-width="1.1"/>
<line x1="386.48" y1="228.00" x2="386.48" y2="220.00" stroke="#C9A062" stroke-width="1.1"/>
<line x1="384.38" y1="220.00" x2="388.58" y2="220.00" stroke="#C9A062" stroke-width="1.1"/>
<line x1="393.60" y1="221.60" x2="393.60" y2="214.80" stroke="#C9A062" stroke-width="1.1"/>
<line x1="391.50" y1="214.80" x2="395.70" y2="214.80" stroke="#C9A062" stroke-width="1.1"/>
<line x1="400.72" y1="216.60" x2="400.72" y2="208.20" stroke="#C9A062" stroke-width="1.1"/>
<line x1="398.62" y1="208.20" x2="402.82" y2="208.20" stroke="#C9A062" stroke-width="1.1"/>
<line x1="411.40" y1="210.80" x2="411.40" y2="200.60" stroke="#C9A062" stroke-width="1.1"/>
<line x1="409.30" y1="200.60" x2="413.50" y2="200.60" stroke="#C9A062" stroke-width="1.1"/>
<line x1="418.52" y1="202.70" x2="418.52" y2="191.30" stroke="#C9A062" stroke-width="1.1"/>
<line x1="416.42" y1="191.30" x2="420.62" y2="191.30" stroke="#C9A062" stroke-width="1.1"/>
<line x1="425.64" y1="205.20" x2="425.64" y2="194.60" stroke="#C9A062" stroke-width="1.1"/>
<line x1="423.54" y1="194.60" x2="427.74" y2="194.60" stroke="#C9A062" stroke-width="1.1"/>
<polyline points="286.80,268.60 293.92,268.30 301.04,265.50 311.72,264.00 318.84,262.20 325.96,259.40 336.64,255.30 343.76,252.20 350.88,247.60 361.56,241.40 368.68,231.80 375.80,229.10 386.48,228.00 393.60,221.60 400.72,216.60 411.40,210.80 418.52,202.70 425.64,205.20" fill="none" stroke="#C9A062" stroke-width="1.15" stroke-linejoin="round"/>
<circle cx="286.80" cy="268.60" r="2.25" fill="#C9A062"/>
<circle cx="293.92" cy="268.30" r="2.25" fill="#C9A062"/>
<circle cx="301.04" cy="265.50" r="2.25" fill="#C9A062"/>
<circle cx="311.72" cy="264.00" r="2.25" fill="#C9A062"/>
<circle cx="318.84" cy="262.20" r="2.25" fill="#C9A062"/>
<circle cx="325.96" cy="259.40" r="2.25" fill="#C9A062"/>
<circle cx="336.64" cy="255.30" r="2.25" fill="#C9A062"/>
<circle cx="343.76" cy="252.20" r="2.25" fill="#C9A062"/>
<circle cx="350.88" cy="247.60" r="2.25" fill="#C9A062"/>
<circle cx="361.56" cy="241.40" r="2.25" fill="#C9A062"/>
<circle cx="368.68" cy="231.80" r="2.25" fill="#C9A062"/>
<circle cx="375.80" cy="229.10" r="2.25" fill="#C9A062"/>
<circle cx="386.48" cy="228.00" r="2.25" fill="#C9A062"/>
<circle cx="393.60" cy="221.60" r="2.25" fill="#C9A062"/>
<circle cx="400.72" cy="216.60" r="2.25" fill="#C9A062"/>
<circle cx="411.40" cy="210.80" r="2.25" fill="#C9A062"/>
<circle cx="418.52" cy="202.70" r="2.25" fill="#C9A062"/>
<circle cx="425.64" cy="205.20" r="2.25" fill="#C9A062"/>
<line x1="350.88" y1="256.60" x2="350.88" y2="253.40" stroke="#2A8A36" stroke-width="1.1"/>
<line x1="348.78" y1="253.40" x2="352.98" y2="253.40" stroke="#2A8A36" stroke-width="1.1"/>
<line x1="361.56" y1="252.20" x2="361.56" y2="249.00" stroke="#2A8A36" stroke-width="1.1"/>
<line x1="359.46" y1="249.00" x2="363.66" y2="249.00" stroke="#2A8A36" stroke-width="1.1"/>
<line x1="368.68" y1="252.70" x2="368.68" y2="246.60" stroke="#2A8A36" stroke-width="1.1"/>
<line x1="366.58" y1="246.60" x2="370.78" y2="246.60" stroke="#2A8A36" stroke-width="1.1"/>
<line x1="375.80" y1="246.60" x2="375.80" y2="241.90" stroke="#2A8A36" stroke-width="1.1"/>
<line x1="373.70" y1="241.90" x2="377.90" y2="241.90" stroke="#2A8A36" stroke-width="1.1"/>
<line x1="386.48" y1="243.50" x2="386.48" y2="238.60" stroke="#2A8A36" stroke-width="1.1"/>
<line x1="384.38" y1="238.60" x2="388.58" y2="238.60" stroke="#2A8A36" stroke-width="1.1"/>
<line x1="393.60" y1="242.20" x2="393.60" y2="238.40" stroke="#2A8A36" stroke-width="1.1"/>
<line x1="391.50" y1="238.40" x2="395.70" y2="238.40" stroke="#2A8A36" stroke-width="1.1"/>
<line x1="400.72" y1="240.60" x2="400.72" y2="236.80" stroke="#2A8A36" stroke-width="1.1"/>
<line x1="398.62" y1="236.80" x2="402.82" y2="236.80" stroke="#2A8A36" stroke-width="1.1"/>
<line x1="411.40" y1="236.30" x2="411.40" y2="233.50" stroke="#2A8A36" stroke-width="1.1"/>
<line x1="409.30" y1="233.50" x2="413.50" y2="233.50" stroke="#2A8A36" stroke-width="1.1"/>
<line x1="418.52" y1="238.10" x2="418.52" y2="234.80" stroke="#2A8A36" stroke-width="1.1"/>
<line x1="416.42" y1="234.80" x2="420.62" y2="234.80" stroke="#2A8A36" stroke-width="1.1"/>
<line x1="425.64" y1="232.50" x2="425.64" y2="228.50" stroke="#2A8A36" stroke-width="1.1"/>
<line x1="423.54" y1="228.50" x2="427.74" y2="228.50" stroke="#2A8A36" stroke-width="1.1"/>
<polyline points="286.80,263.60 293.92,264.50 301.04,263.60 311.72,263.80 318.84,263.50 325.96,261.60 336.64,260.40 343.76,258.10 350.88,256.60 361.56,252.20 368.68,252.70 375.80,246.60 386.48,243.50 393.60,242.20 400.72,240.60 411.40,236.30 418.52,238.10 425.64,232.50" fill="none" stroke="#2A8A36" stroke-width="1.15" stroke-linejoin="round"/>
<polygon points="286.80,260.88 284.40,265.41 289.20,265.41" fill="#2A8A36"/>
<polygon points="293.92,261.78 291.52,266.31 296.32,266.31" fill="#2A8A36"/>
<polygon points="301.04,260.88 298.64,265.41 303.44,265.41" fill="#2A8A36"/>
<polygon points="311.72,261.08 309.32,265.61 314.12,265.61" fill="#2A8A36"/>
<polygon points="318.84,260.78 316.44,265.31 321.24,265.31" fill="#2A8A36"/>
<polygon points="325.96,258.88 323.56,263.41 328.36,263.41" fill="#2A8A36"/>
<polygon points="336.64,257.68 334.24,262.21 339.04,262.21" fill="#2A8A36"/>
<polygon points="343.76,255.39 341.36,259.91 346.16,259.91" fill="#2A8A36"/>
<polygon points="350.88,253.89 348.48,258.41 353.28,258.41" fill="#2A8A36"/>
<polygon points="361.56,249.48 359.16,254.01 363.96,254.01" fill="#2A8A36"/>
<polygon points="368.68,249.98 366.28,254.51 371.08,254.51" fill="#2A8A36"/>
<polygon points="375.80,243.88 373.40,248.41 378.20,248.41" fill="#2A8A36"/>
<polygon points="386.48,240.78 384.08,245.31 388.88,245.31" fill="#2A8A36"/>
<polygon points="393.60,239.48 391.20,244.01 396.00,244.01" fill="#2A8A36"/>
<polygon points="400.72,237.88 398.32,242.41 403.12,242.41" fill="#2A8A36"/>
<polygon points="411.40,233.59 409.00,238.11 413.80,238.11" fill="#2A8A36"/>
<polygon points="418.52,235.38 416.12,239.91 420.92,239.91" fill="#2A8A36"/>
<polygon points="425.64,229.78 423.24,234.31 428.04,234.31" fill="#2A8A36"/>
<line x1="361.56" y1="261.00" x2="361.56" y2="258.50" stroke="#E8161F" stroke-width="1.1"/>
<line x1="359.46" y1="258.50" x2="363.66" y2="258.50" stroke="#E8161F" stroke-width="1.1"/>
<line x1="368.68" y1="260.30" x2="368.68" y2="257.00" stroke="#E8161F" stroke-width="1.1"/>
<line x1="366.58" y1="257.00" x2="370.78" y2="257.00" stroke="#E8161F" stroke-width="1.1"/>
<line x1="375.80" y1="260.30" x2="375.80" y2="257.00" stroke="#E8161F" stroke-width="1.1"/>
<line x1="373.70" y1="257.00" x2="377.90" y2="257.00" stroke="#E8161F" stroke-width="1.1"/>
<line x1="386.48" y1="256.70" x2="386.48" y2="253.30" stroke="#E8161F" stroke-width="1.1"/>
<line x1="384.38" y1="253.30" x2="388.58" y2="253.30" stroke="#E8161F" stroke-width="1.1"/>
<line x1="393.60" y1="255.50" x2="393.60" y2="252.30" stroke="#E8161F" stroke-width="1.1"/>
<line x1="391.50" y1="252.30" x2="395.70" y2="252.30" stroke="#E8161F" stroke-width="1.1"/>
<line x1="400.72" y1="253.80" x2="400.72" y2="250.30" stroke="#E8161F" stroke-width="1.1"/>
<line x1="398.62" y1="250.30" x2="402.82" y2="250.30" stroke="#E8161F" stroke-width="1.1"/>
<line x1="411.40" y1="253.80" x2="411.40" y2="250.50" stroke="#E8161F" stroke-width="1.1"/>
<line x1="409.30" y1="250.50" x2="413.50" y2="250.50" stroke="#E8161F" stroke-width="1.1"/>
<line x1="418.52" y1="250.80" x2="418.52" y2="247.00" stroke="#E8161F" stroke-width="1.1"/>
<line x1="416.42" y1="247.00" x2="420.62" y2="247.00" stroke="#E8161F" stroke-width="1.1"/>
<line x1="425.64" y1="249.60" x2="425.64" y2="245.70" stroke="#E8161F" stroke-width="1.1"/>
<line x1="423.54" y1="245.70" x2="427.74" y2="245.70" stroke="#E8161F" stroke-width="1.1"/>
<polyline points="286.80,267.40 293.92,267.60 301.04,267.90 311.72,267.70 318.84,267.50 325.96,266.10 336.64,265.20 343.76,264.80 350.88,263.50 361.56,261.00 368.68,260.30 375.80,260.30 386.48,256.70 393.60,255.50 400.72,253.80 411.40,253.80 418.52,250.80 425.64,249.60" fill="none" stroke="#E8161F" stroke-width="1.15" stroke-linejoin="round"/>
<rect x="284.60" y="265.20" width="4.40" height="4.40" fill="#E8161F"/>
<rect x="291.72" y="265.40" width="4.40" height="4.40" fill="#E8161F"/>
<rect x="298.84" y="265.70" width="4.40" height="4.40" fill="#E8161F"/>
<rect x="309.52" y="265.50" width="4.40" height="4.40" fill="#E8161F"/>
<rect x="316.64" y="265.30" width="4.40" height="4.40" fill="#E8161F"/>
<rect x="323.76" y="263.90" width="4.40" height="4.40" fill="#E8161F"/>
<rect x="334.44" y="263.00" width="4.40" height="4.40" fill="#E8161F"/>
<rect x="341.56" y="262.60" width="4.40" height="4.40" fill="#E8161F"/>
<rect x="348.68" y="261.30" width="4.40" height="4.40" fill="#E8161F"/>
<rect x="359.36" y="258.80" width="4.40" height="4.40" fill="#E8161F"/>
<rect x="366.48" y="258.10" width="4.40" height="4.40" fill="#E8161F"/>
<rect x="373.60" y="258.10" width="4.40" height="4.40" fill="#E8161F"/>
<rect x="384.28" y="254.50" width="4.40" height="4.40" fill="#E8161F"/>
<rect x="391.40" y="253.30" width="4.40" height="4.40" fill="#E8161F"/>
<rect x="398.52" y="251.60" width="4.40" height="4.40" fill="#E8161F"/>
<rect x="409.20" y="251.60" width="4.40" height="4.40" fill="#E8161F"/>
<rect x="416.32" y="248.60" width="4.40" height="4.40" fill="#E8161F"/>
<rect x="423.44" y="247.40" width="4.40" height="4.40" fill="#E8161F"/>
<line x1="292.7" y1="195.4" x2="304.2" y2="195.4" stroke="#C9A062" stroke-width="1.2"/>
<circle cx="298.45" cy="195.40" r="1.9" fill="#C9A062"/>
<text x="310.0" y="199.7" font-size="10.8" text-anchor="start" fill="#111" stroke="#111" stroke-width="0.35" font-weight="normal" font-style="normal" textLength="50.4" lengthAdjust="spacingAndGlyphs" >Control (4)</text>
<line x1="292.7" y1="207.9" x2="304.2" y2="207.9" stroke="#2A8A36" stroke-width="1.2"/>
<polygon points="298.45,205.41 296.25,209.54 300.65,209.54" fill="#2A8A36"/>
<text x="310.0" y="212.2" font-size="10.8" text-anchor="start" fill="#111" stroke="#111" stroke-width="0.35" font-weight="normal" font-style="normal" textLength="79.6" lengthAdjust="spacingAndGlyphs" >Enzalutamide (5)</text>
<line x1="292.7" y1="220.4" x2="304.2" y2="220.4" stroke="#E8161F" stroke-width="1.2"/>
<rect x="296.55" y="218.50" width="3.80" height="3.80" fill="#E8161F"/>
<text x="310.0" y="224.7" font-size="10.8" text-anchor="start" fill="#111" stroke="#111" stroke-width="0.35" font-weight="normal" font-style="normal" textLength="47.7" lengthAdjust="spacingAndGlyphs" >JJ-450 (5)</text>
<path d="M432.40,248.95L432.40,252.05M431.06,249.72L433.74,251.28M433.74,249.72L431.06,251.28M436.20,248.95L436.20,252.05M434.86,249.72L437.54,251.28M437.54,249.72L434.86,251.28M440.00,248.95L440.00,252.05M438.66,249.72L441.34,251.28M441.34,249.72L438.66,251.28" stroke="#C93A50" stroke-width="0.95" fill="none"/>
<text x="444.7" y="255.8" font-size="10.1" font-style="italic" fill="#C93A50" stroke="#C93A50" stroke-width="0.12">P</text>
<text x="453.8" y="255.8" font-size="10.1" fill="#C93A50" stroke="#C93A50" stroke-width="0.12" textLength="6.2" lengthAdjust="spacingAndGlyphs">=</text>
<text x="460.7" y="255.8" font-size="10.1" fill="#C93A50" stroke="#C93A50" stroke-width="0.12" textLength="33.8" lengthAdjust="spacingAndGlyphs">0.0008</text>
</svg></body></html>
